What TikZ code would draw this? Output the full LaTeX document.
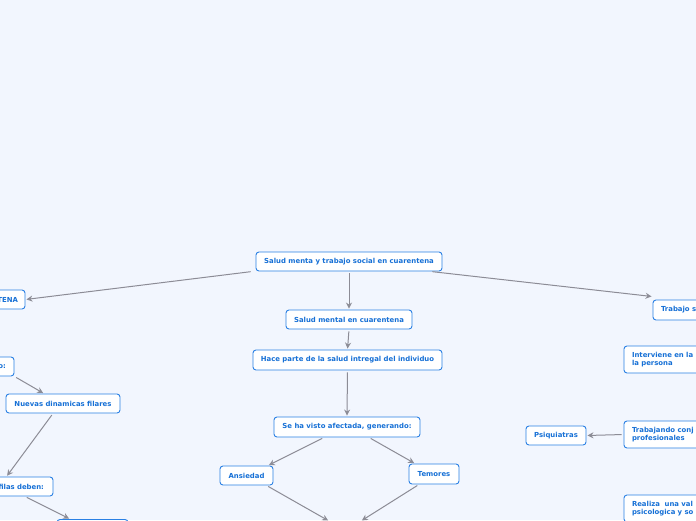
\documentclass[tikz,border=0pt]{standalone}
\usepackage{fontspec}
\setmainfont{DejaVu Sans}
\usetikzlibrary{arrows.meta}
\definecolor{bg}{HTML}{F2F6FE}
\definecolor{bluebord}{HTML}{2A80E4}
\definecolor{bluetext}{HTML}{1670D6}
\definecolor{conncol}{HTML}{8C8C96}
\tikzset{
  box/.style={draw=bluebord, line width=0.9pt, fill=white, rounded corners=3pt,
    text=bluetext, font=\fontsize{6.9}{8.2}\selectfont\bfseries, inner sep=0pt, align=center},
  conn/.style={draw=conncol, line width=1pt, -{Stealth[length=6pt,width=6pt]}, shorten <=2pt, shorten >=1pt},
}
\begin{document}
\begin{tikzpicture}[x=1pt,y=-1pt]
\fill[bg] (0,0) rectangle (696,520);
\useasboundingbox (0,0) rectangle (696,520);
\clip (0,0) rectangle (696,520);
% center column
\node[box, minimum width=186, minimum height=19] (root) at (349,261.5) {Salud menta y trabajo social en cuarentena};
\node[box, minimum width=126, minimum height=19] (salud) at (349,319.5) {Salud mental en cuarentena};
\node[box, minimum width=189, minimum height=20] (hace) at (347.5,360) {Hace parte de la salud intregal del individuo};
\node[box, minimum width=146, minimum height=20] (se) at (347,427) {Se ha visto afectada, generando:};
\node[box, minimum width=53, minimum height=19] (ans) at (246.5,475.5) {Ansiedad};
\node[box, minimum width=50, minimum height=20] (tem) at (434,474) {Temores};
\coordinate (b1) at (329,521);
\coordinate (b2) at (361,521);
% left side
\node[box, minimum width=65, minimum height=19, text width=51, align=right] (tena) at (-7.5,299.5) {TENA};
\node[box, minimum width=50, minimum height=19, text width=34, align=right] (o) at (-11,366.5) {o:};
\node[box, minimum width=114, minimum height=19] (nuev) at (63,403.5) {Nuevas dinamicas filares};
\node[box, minimum width=93, minimum height=19, text width=75, align=right] (filas) at (6.5,486.5) {filas deben:};
\node[box, minimum width=71, minimum height=20] (bot) at (92.5,529.5) {};
% right side
\node[box, minimum width=70, minimum height=20, text width=54, align=left] (trab) at (688,310) {Trabajo s};
\node[box, minimum width=90, minimum height=27, text width=74, align=left] (interv) at (669,359.5) {Interviene en la\\la persona};
\node[box, minimum width=60, minimum height=19] (psiq) at (556,435.5) {Psiquiatras};
\node[box, minimum width=90, minimum height=27, text width=74, align=left] (trabc) at (669,434.5) {Trabajando conj\\profesionales};
\node[box, minimum width=90, minimum height=27, text width=74, align=left] (real) at (669,508.5) {Realiza\ \ una val\\psicologica y so};
% connectors
\draw[conn] ([xshift=-3]root.south west) -- (tena.east);
\draw[conn] ([xshift=-12]root.south east) -- ([yshift=3]trab.north west);
\draw[conn] (root.south) -- (salud.north);
\draw[conn] (salud.south) -- (hace.north);
\draw[conn] (hace.south) -- (se.north);
\draw[conn] ([xshift=-23]se.south) -- ([xshift=21.5]ans.north);
\draw[conn] ([xshift=22]se.south) -- ([xshift=-19]tem.north);
\draw[conn] ([xshift=20]ans.south) -- (b1);
\draw[conn] ([xshift=-15]tem.south) -- (b2);
\draw[conn] (o.south east) -- ([xshift=-19]nuev.north);
\draw[conn] ([xshift=-10]nuev.south) -- (filas.north);
\draw[conn] ([xshift=18.5]filas.south) -- ([xshift=-22.5]bot.north);
\draw[conn] (trabc.west) -- (psiq.east);
\end{tikzpicture}
\end{document}
